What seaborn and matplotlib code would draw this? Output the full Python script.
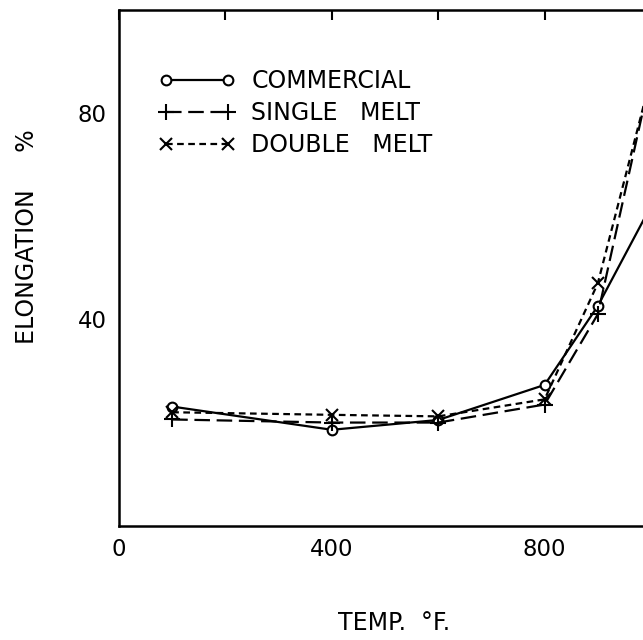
import matplotlib
matplotlib.use("Agg")
import matplotlib.pyplot as plt
import seaborn as sns

# datos
temps = [100, 400, 600, 800, 900, 1000]
commercial = [23.1, 18.6, 20.5, 27.3, 42.6, 62.0]
single_melt = [20.6, 20.0, 20.0, 23.5, 41.0, 87.5]
double_melt = [22.0, 21.5, 21.2, 24.5, 47.0, 87.0]

series_names = ["COMMERCIAL", "SINGLE   MELT", "DOUBLE   MELT"]
x_ticks = [0, 200, 400, 600, 800, 1000]
x_labels = ["0", "", "400", "", "800", ""]
y_ticks = [0, 20, 40, 60, 80, 100]
y_labels = ["", "", "40", "", "80", ""]

sns.set_style("white")
plt.rcParams["font.family"] = ["DejaVu Sans"]
plt.rcParams["text.color"] = "black"
plt.rcParams["xtick.color"] = "black"
plt.rcParams["ytick.color"] = "black"
plt.rcParams["axes.labelcolor"] = "black"

fig = plt.figure(figsize=(6.43, 6.40), dpi=100)
ax = fig.add_axes([119 / 643, 1 - 525.7 / 640, 532 / 643, 515.7 / 640])

estilos = [
    (commercial, "o", None, 7),
    (single_melt, "+", (7, 3), 12),
    (double_melt, "x", (3, 2), 9),
]
handles = []
for valores, mk, dash, ms in estilos:
    sns.lineplot(x=temps, y=valores, color="black", linewidth=1.6, marker=mk,
                 markersize=ms, markerfacecolor="white", markeredgecolor="black",
                 markeredgewidth=1.5, ax=ax)
    line = ax.get_lines()[-1]
    if dash is not None:
        line.set_dashes(dash)
    handles.append(line)

ax.set_xlim(0, 1000)
ax.set_ylim(0, 100)
ax.set_xticks(x_ticks)
ax.set_xticklabels(x_labels)
ax.set_yticks(y_ticks)
ax.set_yticklabels(y_labels)
ax.tick_params(direction="in", length=7, width=1.5, top=True, right=False,
               labelsize=16.5, pad=9)
for s in ax.spines.values():
    s.set_linewidth(1.8)
    s.set_color("black")

ax.set_xlabel("TEMP.  °F.", fontsize=17, va="center")
ax.set_ylabel("ELONGATION     %", fontsize=17, va="center")
ax.xaxis.set_label_coords((394 - 119) / 532, (525.7 - 623) / 515.7)
ax.yaxis.set_label_coords((27 - 119) / 532, (525.7 - 237) / 515.7)

ax.legend(handles, series_names, loc="upper left",
          bbox_to_anchor=((138 - 119) / 532, (525.7 - 48) / 515.7),
          frameon=False, numpoints=2, handlelength=3.2, handletextpad=0.7,
          labelspacing=0.33, fontsize=17)

fig.savefig("out.png", dpi=100)
